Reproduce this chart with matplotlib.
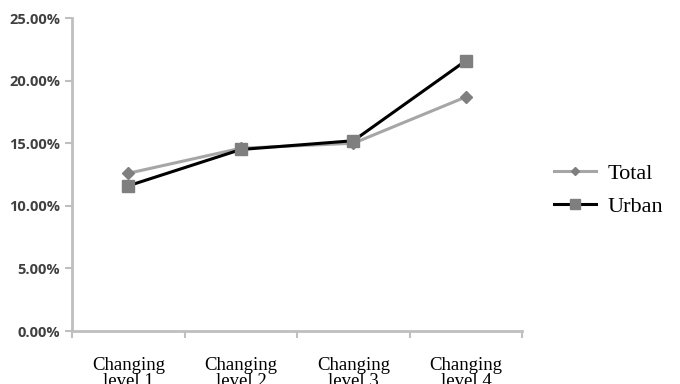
#!/usr/bin/env python3

import numpy as np
from matplotlib import pyplot as plt
from matplotlib.ticker import FixedLocator, PercentFormatter

# Categories and series (percent).
categories = ["Changing\nlevel 1", "Changing\nlevel 2", "Changing\nlevel 3", "Changing\nlevel 4"]
total = [12.6, 14.6, 15.0, 18.7]
urban = [11.6, 14.5, 15.2, 21.6]
y_ticks = [0, 5, 10, 15, 20, 25]

fig = plt.figure(figsize=(6.8, 3.84), dpi=100)
ax = fig.add_axes([0.106, 0.138, 0.662, 0.815])

x = np.arange(len(categories))
ax.plot(x, total, color="#a6a6a6", lw=2.2, marker="D", ms=6,
        mfc="#7f7f7f", mec="#7f7f7f", label="Total", zorder=2)
ax.plot(x, urban, color="#000000", lw=2.2, marker="s", ms=9,
        mfc="#7f7f7f", mec="#7f7f7f", label="Urban", zorder=3)

ax.set_xlim(-0.5, len(categories) - 0.5)
ax.set_ylim(0, 25)
ax.set_yticks(y_ticks)
ax.yaxis.set_major_formatter(PercentFormatter(decimals=2))

ax.set_xticks(x)
ax.set_xticklabels(categories, fontfamily="Liberation Serif", fontsize=13.5,
                   linespacing=0.9)
ax.tick_params(axis="x", which="major", length=0, pad=19)
ax.xaxis.set_minor_locator(FixedLocator(np.arange(-0.5, len(categories), 1.0)))
ax.tick_params(axis="x", which="minor", length=5, width=1.5, color="#bfbfbf")
ax.tick_params(axis="y", length=5, width=1.5, color="#bfbfbf", labelsize=10.5,
               labelcolor="#404040")
for lab in ax.get_yticklabels():
    lab.set_fontweight("bold")
    lab.set_fontfamily("Open Sans")

for side in ("top", "right"):
    ax.spines[side].set_visible(False)
for side in ("left", "bottom"):
    ax.spines[side].set_color("#bfbfbf")
    ax.spines[side].set_linewidth(2)

fig.legend(loc="center", bbox_to_anchor=(0.895, 0.505), frameon=False,
           prop={"family": "Liberation Serif", "size": 16}, markerscale=0.75,
           handlelength=1.9, labelspacing=0.55, handletextpad=0.5)

fig.savefig("out.png", dpi=100)
